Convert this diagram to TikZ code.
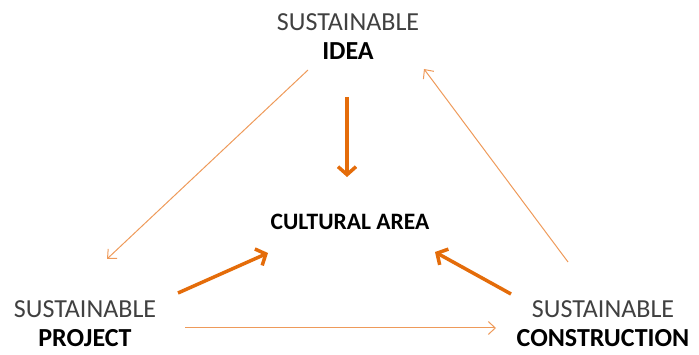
\documentclass[tikz,border=0pt]{standalone}
\usepackage{fontspec}
\setmainfont{Carlito}
\usetikzlibrary{arrows.meta, positioning}
\definecolor{arrowOrange}{HTML}{E46C0A}
\definecolor{thinOrange}{HTML}{EE9A5A}
\definecolor{labelGray}{HTML}{404040}

\tikzset{
  label/.style={align=center, inner sep=0pt, font=\fontsize{26}{29}\selectfont, text=labelGray},
  thinarrow/.style={thinOrange, line width=1pt, -{Straight Barb[length=7pt, width=13pt]}},
  thickarrow/.style={arrowOrange, line width=3.5pt, -{Straight Barb[length=8pt, width=18pt]}}
}

\begin{document}
\begin{tikzpicture}[x=1pt, y=-1pt]
\useasboundingbox (0,0) rectangle (699,355);

% corner labels
\node[label] (idea) at (348,37) {SUSTAINABLE\\\textbf{\color{black}IDEA}};
\node[label] (project) at (85,324) {SUSTAINABLE\\\textbf{\color{black}PROJECT}};
\node[label] (construction) at (603,324) {SUSTAINABLE\\\textbf{\color{black}CONSTRUCTION}};
\node[label, font=\fontsize{23.5}{28}\selectfont\bfseries, text=black] (culture) at (350,222) {CULTURAL AREA};

% ends of the outer arrows
\coordinate (ideaL) at (308,70);
\coordinate (ideaR) at (424,69);
\coordinate (projT) at (107,259);
\coordinate (projR) at (185,328);
\coordinate (consL) at (496,328);
\coordinate (consT) at (568,262);

% outer triangle
\draw[thinarrow] (ideaL) -- (projT);
\draw[thinarrow] (consT) -- (ideaR);
\draw[thinarrow] (projR) -- (consL);

% arrows towards the centre
\coordinate (ideaB) at (347,97);
\coordinate (ideaE) at (347,177);
\coordinate (projC) at (178,293);
\coordinate (projE) at (268,253);
\coordinate (consC) at (511,294);
\coordinate (consE) at (435,252);
\draw[thickarrow] (ideaB) -- (ideaE);
\draw[thickarrow] (projC) -- (projE);
\draw[thickarrow] (consC) -- (consE);
\end{tikzpicture}
\end{document}
